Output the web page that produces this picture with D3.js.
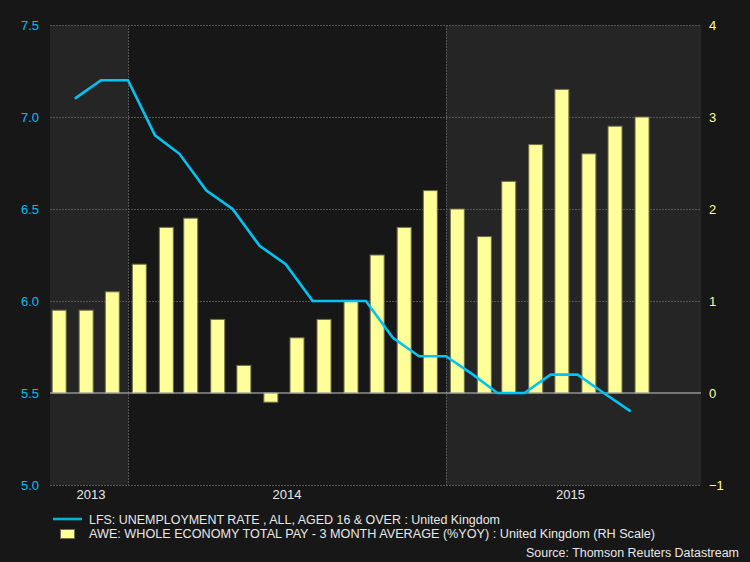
<!DOCTYPE html>
<html><head><meta charset="utf-8">
<script src="https://cdn.jsdelivr.net/npm/d3@7"></script>
<style>
html,body{margin:0;padding:0;background:#171717;}
svg{display:block;}
text{font-family:"Liberation Sans",Arial,sans-serif;}
</style></head>
<body>
<script>
// ---- data ----
const months = ["2013-10","2013-11","2013-12","2014-01","2014-02","2014-03","2014-04","2014-05","2014-06","2014-07","2014-08","2014-09","2014-10","2014-11","2014-12","2015-01","2015-02","2015-03","2015-04","2015-05","2015-06","2015-07","2015-08"];
const lfs = [null,7.1,7.2,7.2,6.9,6.8,6.6,6.5,6.3,6.2,6.0,6.0,6.0,5.8,5.7,5.7,5.6,5.5,5.5,5.6,5.6,5.5,5.4];
const awe = [0.9,0.9,1.1,1.4,1.8,1.9,0.8,0.3,-0.1,0.6,0.8,1.0,1.5,1.8,2.2,2.0,1.7,2.3,2.7,3.3,2.6,2.9,3.0];
const leftTicks = [5.0,5.5,6.0,6.5,7.0,7.5];
const rightTicks = [-1,0,1,2,3,4];
const years = [2013,2014,2015];
const lfsLabel = "LFS: UNEMPLOYMENT RATE , ALL, AGED 16 & OVER : United Kingdom";
const aweLabel = "AWE: WHOLE ECONOMY TOTAL PAY - 3 MONTH AVERAGE (%YOY) : United Kingdom (RH Scale)";
const sourceLabel = "Source: Thomson Reuters Datastream";

// ---- layout ----
const W = 750, H = 562;
const L = 50, R = 701, T = 25, B = 485;
const svg = d3.select("body").append("svg").attr("width", W).attr("height", H);
svg.append("rect").attr("width", W).attr("height", H).attr("fill", "#171717");

const x = d3.scaleUtc().domain([Date.UTC(2013,9,3,12), Date.UTC(2015,9,20,16)]).range([L, R]);
const yL = d3.scaleLinear().domain([5.0, 7.5]).range([B, T]);
const yR = d3.scaleLinear().domain([-1, 4]).range([B, T]);
const parseM = d3.utcParse("%Y-%m");

// year shading
years.forEach((yr, i) => {
  const x0 = Math.max(L, x(Date.UTC(yr,0,1)));
  const x1 = Math.min(R, x(Date.UTC(yr+1,0,1)));
  svg.append("rect").attr("x", x0).attr("y", T).attr("width", x1 - x0).attr("height", B - T)
    .attr("fill", i % 2 === 0 ? "#252525" : "#171717");
  svg.append("text").attr("x", (x0 + x1) / 2 + (i===0?2:(i===2?-3:0))).attr("y", 499)
    .attr("text-anchor", "middle").attr("fill", "#e8e8e8").attr("font-size", 13).text(yr);
});

// horizontal dotted gridlines
const g = svg.append("g");
leftTicks.filter(v => v !== 5.5).forEach(v => {
  g.append("line").attr("x1", L).attr("x2", R).attr("y1", Math.round(yL(v)) + 0.5).attr("y2", Math.round(yL(v)) + 0.5)
    .attr("stroke", "#555").attr("stroke-width", 1).attr("stroke-dasharray", "2,1");
});
// vertical year boundaries
years.slice(1).forEach(yr => {
  const xv = Math.round(x(Date.UTC(yr,0,1))) + 0.5;
  g.append("line").attr("x1", xv).attr("x2", xv).attr("y1", T).attr("y2", B)
    .attr("stroke", "#555").attr("stroke-width", 1).attr("stroke-dasharray", "2,1");
});

// bars
const barW = 14;
svg.append("g").selectAll("rect").data(months).join("rect")
  .attr("x", (m) => x(d3.utcDay.offset(parseM(m), 13)) - barW / 2)
  .attr("y", (m, i) => yR(Math.max(0, awe[i])))
  .attr("width", barW)
  .attr("height", (m, i) => Math.abs(yR(awe[i]) - yR(0)))
  .attr("fill", "#ffff99").attr("stroke", "#6e6e48").attr("stroke-width", 1);

// zero line (right scale) / 5.5 left
svg.append("line").attr("x1", L).attr("x2", R).attr("y1", yR(0)).attr("y2", yR(0))
  .attr("stroke", "#c8c8c8").attr("stroke-width", 1.2);

// line
const line = d3.line().defined(d => d.v != null).x(d => x(d.d)).y(d => yL(d.v));
svg.append("path").datum(months.map((m, i) => ({d: parseM(m), v: lfs[i]})))
  .attr("d", line).attr("fill", "none").attr("stroke", "#00c4f4").attr("stroke-width", 2.6)
  .attr("stroke-linejoin", "miter");

// axes
const axL = d3.axisLeft(yL).tickValues(leftTicks).tickFormat(d3.format(".1f")).tickSize(0).tickPadding(11);
const gl = svg.append("g").attr("transform", `translate(${L},0)`).call(axL);
gl.select(".domain").remove();
gl.selectAll("text").attr("fill", "#00bff5").attr("font-size", 13).attr("font-family", "Liberation Sans, Arial, sans-serif");

const axR = d3.axisRight(yR).tickValues(rightTicks).tickFormat(d3.format("d")).tickSize(0).tickPadding(8);
const gr = svg.append("g").attr("transform", `translate(${R},0)`).call(axR);
gr.select(".domain").remove();
gr.selectAll("text").attr("fill", "#ffff99").attr("font-size", 13).attr("font-family", "Liberation Sans, Arial, sans-serif");

// legend
svg.append("line").attr("x1", 53).attr("x2", 82).attr("y1", 519).attr("y2", 519)
  .attr("stroke", "#00b4e0").attr("stroke-width", 2.6);
svg.append("rect").attr("x", 60.5).attr("y", 529.5).attr("width", 14).attr("height", 9)
  .attr("fill", "#ffff99").attr("stroke", "#6e6e48");
svg.append("text").attr("x", 89).attr("y", 523.5).attr("fill", "#e8e8e8").attr("font-size", 12.5)
  .attr("textLength", 411).attr("lengthAdjust", "spacingAndGlyphs").text(lfsLabel);
svg.append("text").attr("x", 89).attr("y", 537.5).attr("fill", "#e8e8e8").attr("font-size", 12.5)
  .attr("textLength", 566).attr("lengthAdjust", "spacingAndGlyphs").text(aweLabel);
svg.append("text").attr("x", 526).attr("y", 557).attr("fill", "#e8e8e8").attr("font-size", 12.5)
  .attr("textLength", 213).attr("lengthAdjust", "spacingAndGlyphs").text(sourceLabel);
</script>
</body></html>
